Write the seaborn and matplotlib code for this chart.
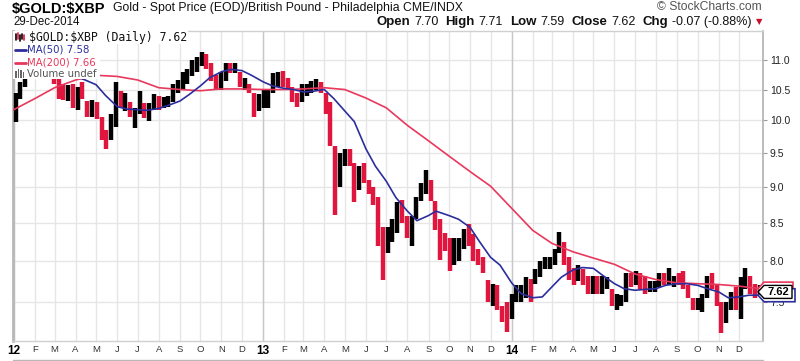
import numpy as np
import pandas as pd
import matplotlib.pyplot as plt
import seaborn as sns
from matplotlib.lines import Line2D
from matplotlib.patches import Rectangle, Polygon
from matplotlib.ticker import FixedLocator, FuncFormatter, NullLocator, NullFormatter

W, H = 800, 361

# one bar per week (Wednesday dates)
first_week = "2012-01-04"
week_high = [
    10.45, 10.62, 10.75, 10.95, 11.00, 11.00, 10.95, 11.05, 10.95, 10.70,
    10.60, 10.58, 10.60, 10.55, 10.63, 10.31, 10.33, 10.30, 10.05, 9.85,
    10.10, 10.63, 10.48, 10.45, 10.30, 10.20, 10.47, 10.28, 10.28, 10.43,
    10.40, 10.38, 10.40, 10.60, 10.66, 10.80, 10.85, 11.00, 11.05, 11.15,
    11.10, 10.95, 10.75, 10.80, 10.95, 10.95, 10.95, 10.80, 10.70, 10.60,
    10.45, 10.42, 10.49, 10.50, 10.78, 10.80, 10.82, 10.70, 10.55, 10.45,
    10.60, 10.60, 10.65, 10.68, 10.62, 10.45, 10.30, 9.60, 9.50, 9.56,
    9.55, 9.35, 9.30, 9.35, 9.10, 9.00, 8.85, 8.45, 8.45, 8.55,
    8.78, 8.82, 8.60, 8.60, 8.85, 9.05, 9.25, 9.10, 8.80, 8.55,
    8.36, 8.30, 8.30, 8.30, 8.42, 8.48, 8.35, 8.16, 8.05, 7.76,
    7.72, 7.70, 7.45, 7.50, 7.60, 7.70, 7.70, 7.80, 7.78, 7.90,
    8.00, 8.05, 8.05, 8.15, 8.38, 8.25, 8.05, 7.92, 7.95, 7.90,
    7.82, 7.82, 7.82, 7.82, 7.80, 7.65, 7.60, 7.58, 7.85, 7.85,
    7.88, 7.85, 7.82, 7.75, 7.75, 7.85, 7.85, 7.92, 7.82, 7.85,
    7.88, 7.70, 7.55, 7.55, 7.60, 7.82, 7.85, 7.72, 7.50, 7.50,
    7.62, 7.68, 7.80, 7.91, 7.82, 7.72, 7.71,
]
week_low = [
    9.97, 10.35, 10.55, 10.70, 10.80, 10.80, 10.75, 10.80, 10.60, 10.35,
    10.33, 10.31, 10.20, 10.17, 10.35, 10.05, 10.05, 10.02, 9.70, 9.56,
    9.70, 9.90, 10.22, 10.15, 10.05, 9.88, 10.10, 10.04, 9.99, 10.17,
    10.17, 10.20, 10.22, 10.30, 10.45, 10.50, 10.60, 10.72, 10.80, 10.90,
    10.85, 10.65, 10.49, 10.50, 10.65, 10.78, 10.78, 10.55, 10.49, 10.45,
    10.05, 10.15, 10.20, 10.20, 10.45, 10.55, 10.55, 10.50, 10.30, 10.22,
    10.30, 10.40, 10.45, 10.50, 10.45, 10.10, 9.60, 8.61, 9.00, 9.30,
    9.30, 8.78, 8.95, 9.05, 8.90, 8.75, 8.20, 7.76, 8.10, 8.25,
    8.36, 8.50, 8.30, 8.20, 8.55, 8.80, 8.90, 8.80, 8.40, 8.01,
    8.13, 7.88, 7.95, 8.00, 8.15, 8.20, 8.00, 7.95, 7.85, 7.50,
    7.45, 7.41, 7.27, 7.15, 7.30, 7.50, 7.50, 7.55, 7.50, 7.72,
    7.80, 7.90, 7.90, 7.95, 8.10, 7.95, 7.76, 7.70, 7.75, 7.70,
    7.60, 7.60, 7.60, 7.60, 7.65, 7.45, 7.41, 7.45, 7.50, 7.68,
    7.70, 7.65, 7.60, 7.62, 7.62, 7.68, 7.70, 7.70, 7.68, 7.70,
    7.65, 7.55, 7.41, 7.40, 7.38, 7.55, 7.65, 7.45, 7.14, 7.25,
    7.40, 7.40, 7.30, 7.65, 7.60, 7.55, 7.59,
]
week_close = [
    10.40, 10.55, 10.70, 10.90, 10.90, 10.85, 10.90, 10.95, 10.65, 10.50,
    10.45, 10.50, 10.30, 10.45, 10.40, 10.20, 10.25, 10.10, 9.80, 9.70,
    9.95, 10.40, 10.30, 10.35, 10.10, 10.15, 10.30, 10.10, 10.20, 10.35,
    10.25, 10.30, 10.30, 10.55, 10.60, 10.75, 10.80, 10.95, 10.95, 11.05,
    10.95, 10.70, 10.60, 10.70, 10.90, 10.85, 10.90, 10.60, 10.60, 10.50,
    10.20, 10.30, 10.30, 10.45, 10.65, 10.70, 10.65, 10.60, 10.40, 10.35,
    10.50, 10.55, 10.55, 10.60, 10.50, 10.25, 9.70, 9.10, 9.40, 9.45,
    9.35, 8.95, 9.20, 9.10, 8.95, 8.85, 8.30, 8.10, 8.30, 8.45,
    8.70, 8.60, 8.35, 8.50, 8.80, 9.00, 9.05, 8.90, 8.50, 8.30,
    8.25, 8.05, 8.05, 8.25, 8.35, 8.25, 8.10, 8.05, 7.90, 7.60,
    7.60, 7.50, 7.35, 7.30, 7.55, 7.60, 7.65, 7.75, 7.70, 7.85,
    7.95, 8.00, 8.00, 8.10, 8.30, 8.00, 7.85, 7.80, 7.85, 7.75,
    7.70, 7.75, 7.65, 7.70, 7.70, 7.50, 7.50, 7.55, 7.80, 7.75,
    7.80, 7.75, 7.65, 7.70, 7.70, 7.80, 7.75, 7.75, 7.80, 7.78,
    7.70, 7.60, 7.45, 7.45, 7.55, 7.75, 7.70, 7.48, 7.35, 7.40,
    7.55, 7.45, 7.70, 7.80, 7.65, 7.62, 7.62,
]

ma50_dates = [
    "2012-03-20", "2012-04-01", "2012-04-15", "2012-05-01", "2012-05-15", "2012-06-01",
    "2012-06-15", "2012-07-01", "2012-07-15", "2012-08-01", "2012-08-15", "2012-09-01",
    "2012-09-15", "2012-10-01", "2012-10-15", "2012-11-01", "2012-11-15", "2012-12-01",
    "2012-12-15", "2013-01-01", "2013-01-15", "2013-02-01", "2013-02-15", "2013-03-01",
    "2013-03-15", "2013-04-01", "2013-04-15", "2013-05-01", "2013-05-15", "2013-06-01",
    "2013-06-15", "2013-07-01", "2013-07-15", "2013-08-01", "2013-08-15", "2013-09-01",
    "2013-09-12", "2013-10-01", "2013-10-15", "2013-11-01", "2013-11-15", "2013-12-01",
    "2013-12-15", "2014-01-01", "2014-01-15", "2014-02-01", "2014-02-15", "2014-03-01",
    "2014-03-15", "2014-04-01", "2014-04-15", "2014-05-01", "2014-05-15", "2014-06-01",
    "2014-06-15", "2014-07-01", "2014-07-15", "2014-08-01", "2014-08-15", "2014-09-01",
    "2014-09-15", "2014-10-01", "2014-10-15", "2014-11-01", "2014-11-15", "2014-12-01",
    "2014-12-15", "2014-12-31",
]
ma50 = [
    10.76, 10.72, 10.66, 10.58, 10.40, 10.22,
    10.18, 10.17, 10.16, 10.19, 10.24, 10.31,
    10.42, 10.56, 10.70, 10.80, 10.84, 10.82,
    10.74, 10.63, 10.56, 10.52, 10.50, 10.46,
    10.47, 10.50, 10.35, 10.15, 9.98, 9.56,
    9.30, 9.08, 8.85, 8.66, 8.53, 8.60,
    8.66, 8.60, 8.55, 8.44, 8.25, 8.05,
    7.95, 7.73, 7.60, 7.55, 7.56, 7.68,
    7.80, 7.89, 7.92, 7.91, 7.82, 7.72,
    7.66, 7.64, 7.65, 7.66, 7.70, 7.72,
    7.72, 7.70, 7.66, 7.62, 7.55, 7.56,
    7.58, 7.58,
]

ma200_dates = [
    "2012-01-01", "2012-02-01", "2012-03-01", "2012-04-01", "2012-05-01", "2012-06-01",
    "2012-07-01", "2012-08-01", "2012-09-01", "2012-10-01", "2012-11-01", "2012-12-01",
    "2013-01-01", "2013-02-01", "2013-03-01", "2013-04-01", "2013-05-01", "2013-06-01",
    "2013-07-01", "2013-08-01", "2013-09-01", "2013-10-01", "2013-11-01", "2013-12-01",
    "2014-01-01", "2014-02-01", "2014-03-01", "2014-04-01", "2014-05-01", "2014-06-01",
    "2014-07-01", "2014-08-01", "2014-09-01", "2014-10-01", "2014-11-01", "2014-12-01",
    "2014-12-31",
]
ma200 = [
    10.17, 10.35, 10.53, 10.66, 10.74, 10.72, 10.66, 10.53, 10.50, 10.48, 10.51, 10.51,
    10.50, 10.50, 10.51, 10.53, 10.50, 10.36, 10.20, 9.92, 9.68, 9.45, 9.22, 9.01,
    8.70, 8.40, 8.23, 8.12, 8.04, 7.96, 7.84, 7.77, 7.73, 7.72, 7.71, 7.69,
    7.66,
]

y_ticks = [7.5, 8.0, 8.5, 9.0, 9.5, 10.0, 10.5, 11.0]
month_letters = ["J", "F", "M", "A", "M", "J", "J", "A", "S", "O", "N", "D"]

RED = "#e0163f"
MA200_COLOR = "#e8385c"
MA50_COLOR = "#2b2e9c"


def fx(px):
    return px / W


def fy(py):
    return 1 - py / H


sns.set_style("white")
plt.rcParams["font.family"] = ["Liberation Sans", "DejaVu Sans"]

fig = plt.figure(figsize=(8, 3.61), dpi=100)
ax = fig.add_axes([fx(13), fy(341), 750 / W, 310 / H])

# price bars
weeks = pd.DataFrame({
    "date": pd.date_range(first_week, periods=len(week_close), freq="7D"),
    "high": week_high,
    "low": week_low,
    "close": week_close,
})
down = weeks["close"].diff().fillna(0) < 0
ax.vlines(weeks["date"], weeks["low"], weeks["high"],
          colors=np.where(down, RED, "black"), lw=3.2, zorder=3)

# moving averages
ma200_df = pd.DataFrame({"date": pd.to_datetime(ma200_dates), "value": ma200})
ma50_df = pd.DataFrame({"date": pd.to_datetime(ma50_dates), "value": ma50})
sns.lineplot(data=ma200_df, x="date", y="value", color=MA200_COLOR, lw=1.2, ax=ax, zorder=4)
sns.lineplot(data=ma50_df, x="date", y="value", color=MA50_COLOR, lw=1.2, ax=ax, zorder=5)
ax.set_xlabel("")
ax.set_ylabel("")

# y axis (log, on the right)
ax.set_yscale("log")
ax.set_ylim(7.05, 11.52)
ax.yaxis.set_major_locator(FixedLocator(y_ticks))
ax.yaxis.set_major_formatter(FuncFormatter(lambda v, p: f"{v:.1f}"))
ax.yaxis.set_minor_locator(NullLocator())
ax.yaxis.set_minor_formatter(NullFormatter())
ax.yaxis.tick_right()
ax.tick_params(axis="y", which="major", labelsize=7.5, labelcolor="#222222",
               length=3, color="#999999", pad=2)

# x axis
ax.set_xlim(pd.Timestamp("2011-12-31"), pd.Timestamp("2015-01-05"))
month_starts = pd.date_range("2012-01-01", "2014-12-01", freq="MS")
ax.set_xticks(month_starts)
ax.set_xticklabels([f"{d:%y}" if d.month == 1 else month_letters[d.month - 1]
                    for d in month_starts])
ax.tick_params(axis="x", length=0, pad=3)
for d, lab in zip(month_starts, ax.get_xticklabels()):
    if d.month == 1:
        lab.set_fontweight("bold")
        lab.set_fontsize(8.5)
        lab.set_color("black")
    else:
        lab.set_fontsize(6.8)
        lab.set_color("#333333")

ax.grid(True, which="major", color="#e6e6e6", lw=1.0)
for d in month_starts[month_starts.month == 1]:
    ax.axvline(d, color="#c8c8c8", lw=1.0, zorder=1.6)

for side in ["top", "bottom"]:
    ax.spines[side].set_color("#d0d0d0")
    ax.spines[side].set_linewidth(1.0)
ax.spines["left"].set_color("#b8b8b8")
ax.spines["left"].set_linewidth(2.0)
ax.spines["right"].set_color("#b0b0b0")
ax.spines["right"].set_linewidth(1.2)


# last value tags on the right axis
def value_tag(val, edge, lw, z, right=792):
    _, yd = ax.get_yaxis_transform().transform((1.0, val))
    xs = [758, 764, right, right, 764]
    ys = [yd, yd + 6.5, yd + 6.5, yd - 6.5, yd - 6.5]
    pts = fig.transFigure.inverted().transform(np.column_stack([xs, ys]))
    fig.add_artist(Polygon(pts, closed=True, transform=fig.transFigure,
                           fc="white", ec=edge, lw=lw, zorder=z))
    return fig.transFigure.inverted().transform((0, yd))[1]


value_tag(ma200[-1], MA200_COLOR, 1.2, 2.1, right=793)
value_tag(ma50[-1], MA50_COLOR, 1.2, 2.2, right=795)
y_last = value_tag(week_close[-1], "black", 1.0, 2.3)
fig.text(fx(778), y_last, "7.62", fontsize=8, fontweight="bold", ha="center", va="center",
         color="black", zorder=4)

# legend block in the top-left corner
fig.add_artist(Rectangle((fx(13), fy(79)), fx(100) - fx(13), fy(31) - fy(79),
                         transform=fig.transFigure, fc="white", ec="none", zorder=1))
fig.text(fx(29), fy(37), "\\$GOLD:\\$XBP (Daily) 7.62", fontsize=8.3, family="DejaVu Sans Mono",
         va="center", color="#111111",
         bbox=dict(fc="white", ec="none", pad=0.5))
for xs, ys, c in [(16, (34, 40), "black"), (18, (33, 39), RED), (20, (35, 41), "black"),
                  (22, (34, 39), "black"), (24, (35, 40), RED)]:
    fig.add_artist(Line2D([fx(xs), fx(xs)], [fy(ys[0]), fy(ys[1])], color=c, lw=1.2, zorder=4))
fig.add_artist(Line2D([fx(15), fx(26)], [fy(50), fy(50)], color=MA50_COLOR, lw=2, zorder=4))
fig.text(fx(27), fy(50), "MA(50) 7.58", fontsize=7.3, family="DejaVu Sans", va="center",
         color=MA50_COLOR)
fig.add_artist(Line2D([fx(15), fx(26)], [fy(62.5), fy(62.5)], color=MA200_COLOR, lw=2, zorder=4))
fig.text(fx(27), fy(62.5), "MA(200) 7.66", fontsize=7.3, family="DejaVu Sans", va="center",
         color=MA200_COLOR)
for xs, top in [(16, 71), (18.5, 69), (21, 70), (23.5, 72)]:
    fig.add_artist(Rectangle((fx(xs - 0.9), fy(78)), 1.8 / W, fy(top) - fy(78),
                             transform=fig.transFigure, fc="#666666", ec="none", zorder=4))
fig.text(fx(27), fy(74), "Volume undef", fontsize=7.3, family="DejaVu Sans", va="center",
         color="#555555")

# header
fig.text(fx(12), fy(9), "\\$GOLD:\\$XBP", fontsize=10.5, fontweight="bold", va="center",
         color="black")
fig.text(fx(113), fy(8), "Gold - Spot Price (EOD)/British Pound - Philadelphia CME/INDX",
         fontsize=8.8, va="center", color="#111111")
fig.text(fx(762), fy(7), "\u00a9 StockCharts.com", fontsize=8.7, va="center", ha="right",
         color="#555555")
fig.text(fx(13), fy(22), "29-Dec-2014", fontsize=8.3, va="center", color="#111111")

quote_parts = [("Open", True, 0), ("7.70", False, 4), ("High", True, 7), ("7.71", False, 4),
               ("Low", True, 7), ("7.59", False, 4), ("Close", True, 7), ("7.62", False, 4),
               ("Chg", True, 7), ("-0.07 (-0.88%)", False, 4)]
renderer = fig.canvas.get_renderer()
x = 752
for s, bold, gap in reversed(quote_parts):
    t = fig.text(fx(x), fy(22), s, ha="right", va="center",
                 fontsize=9.5 if bold else 9, fontweight="bold" if bold else "normal",
                 color="#111111")
    x = t.get_window_extent(renderer).x0 - gap
fig.text(fx(759), fy(22), "\u25bc", fontsize=6, ha="center", va="center", color="#c8102e",
         family=["DejaVu Sans"])

fig.add_artist(Line2D([fx(13), fx(763)], [fy(360), fy(360)], color="#b8b8b8", lw=1.0))

fig.savefig("out.png", dpi=100)
